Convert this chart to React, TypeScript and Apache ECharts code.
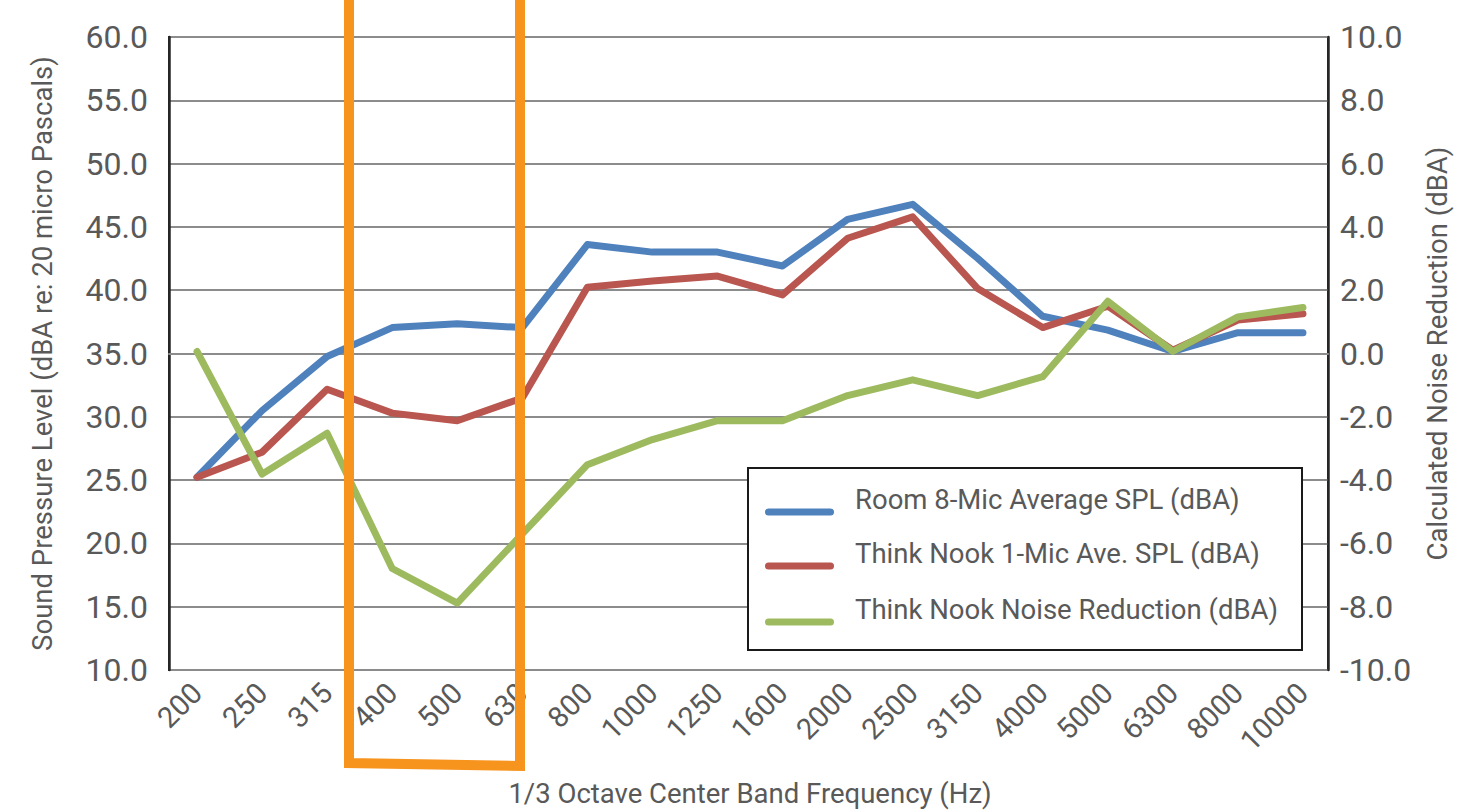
import React, { useEffect, useRef } from "react";
import * as echarts from "echarts";

const categories = ["200", "250", "315", "400", "500", "630", "800", "1000", "1250", "1600", "2000", "2500", "3150", "4000", "5000", "6300", "8000", "10000"];
const roomSPL = [25.0, 30.3, 34.6, 36.9, 37.2, 36.9, 43.5, 42.9, 42.9, 41.8, 45.5, 46.7, 42.4, 37.8, 36.7, 35.0, 36.5, 36.5];
const nookSPL = [25.0, 27.0, 32.0, 30.1, 29.5, 31.3, 40.1, 40.6, 41.0, 39.5, 44.0, 45.7, 40.0, 36.9, 38.6, 35.1, 37.5, 38.0];
const noiseReduction = [0.0, -3.9, -2.6, -6.9, -8.0, -5.8, -3.6, -2.8, -2.2, -2.2, -1.4, -0.9, -1.4, -0.8, 1.6, 0.0, 1.1, 1.4];

const seriesNames = [
  "Room 8-Mic Average SPL (dBA)",
  "Think Nook 1-Mic Ave. SPL (dBA)",
  "Think Nook Noise Reduction (dBA)",
];
const colors = ["#4F81BD", "#B9564F", "#9DBB5E"];

const FONT = "Roboto";
const TXT = "#595959";

export default function App() {
  const ref = useRef<HTMLDivElement>(null);
  useEffect(() => {
    if (!ref.current) return;
    const chart = echarts.init(ref.current, undefined, { renderer: "svg" });
    const top = 37;
    const bottom = 142;

    const legendX = 748;
    const legendY = 468;
    const legendRows = [512, 566, 622];
    const legendGraphics: any[] = [
      {
        type: "rect",
        z: 50,
        silent: true,
        shape: { x: legendX, y: legendY, width: 554, height: 182 },
        style: { fill: "#ffffff", stroke: "#1a1a1a", lineWidth: 2 },
      },
    ];
    seriesNames.forEach((name, i) => {
      legendGraphics.push({
        type: "rect",
        z: 51,
        silent: true,
        shape: { x: 765, y: legendRows[i] - 3.5, width: 69, height: 7, r: 3.5 },
        style: { fill: colors[i] },
      });
      legendGraphics.push({
        type: "text",
        z: 51,
        silent: true,
        x: 855,
        y: legendRows[i] - 13,
        style: {
          text: name,
          fill: TXT,
          font: `27.5px ${FONT}`,
          verticalAlign: "middle",
          align: "left",
        },
      });
    });

    const lineSeries = (i: number, data: number[], yAxisIndex: number) => ({
      name: seriesNames[i],
      type: "line",
      xAxisIndex: 1,
      yAxisIndex,
      data,
      symbol: "none",
      lineStyle: { color: colors[i], width: 7, cap: "round", join: "round" },
      itemStyle: { color: colors[i] },
    });

    chart.setOption({
      animation: false,
      backgroundColor: "#ffffff",
      textStyle: { fontFamily: FONT },
      grid: [
        { left: 169, right: 155, top, bottom, show: true, borderColor: "#262626", borderWidth: 2, backgroundColor: "transparent" },
        { left: 164.5, right: 147.5, top, bottom },
      ],
      xAxis: [
        {
          type: "category",
          gridIndex: 0,
          data: categories,
          axisLine: { show: true, lineStyle: { color: "#8c8c8c", width: 2 } },
          axisTick: { show: false },
          axisLabel: { show: false },
          splitLine: { show: false },
        },
        {
          type: "category",
          gridIndex: 1,
          data: categories,
          boundaryGap: true,
          axisLine: { show: false },
          axisTick: { show: false },
          axisLabel: { rotate: 45, margin: 22, color: TXT, fontSize: 29, fontFamily: FONT, interval: 0 },
          name: "1/3 Octave Center Band Frequency (Hz)",
          nameLocation: "middle",
          nameGap: 113,
          nameTextStyle: { color: TXT, fontSize: 27.5, fontFamily: FONT },
        },
      ],
      yAxis: [
        {
          type: "value",
          gridIndex: 0,
          position: "left",
          min: 10,
          max: 60,
          interval: 5,
          axisLine: { show: true, lineStyle: { color: "#262626", width: 2.5 } },
          axisTick: { show: false },
          axisLabel: { margin: 21, color: TXT, fontSize: 32, fontFamily: FONT, formatter: (v: number) => v.toFixed(1) },
          splitLine: { show: true, lineStyle: { color: "#8c8c8c", width: 2 } },
          name: "Sound Pressure Level (dBA re: 20 micro Pascals)",
          nameLocation: "middle",
          nameGap: 113,
          nameTextStyle: { color: TXT, fontSize: 27.5, fontFamily: FONT },
        },
        {
          type: "value",
          gridIndex: 0,
          position: "right",
          min: -10,
          max: 10,
          interval: 2,
          axisLine: { show: true, lineStyle: { color: "#262626", width: 2.5 } },
          axisTick: { show: false },
          axisLabel: { margin: 12, color: TXT, fontSize: 32, fontFamily: FONT, formatter: (v: number) => v.toFixed(1) },
          splitLine: { show: false },
          name: "Calculated Noise Reduction (dBA)",
          nameLocation: "middle",
          nameGap: 95,
          nameTextStyle: { color: TXT, fontSize: 27.5, fontFamily: FONT },
        },
        { type: "value", gridIndex: 1, min: 10, max: 60, interval: 5, show: false },
        { type: "value", gridIndex: 1, min: -10, max: 10, interval: 2, show: false },
      ],
      series: [
        lineSeries(0, roomSPL, 2),
        lineSeries(1, nookSPL, 2),
        lineSeries(2, noiseReduction, 3),
      ],
      graphic: [
        ...legendGraphics,
        {
          type: "polyline",
          z: 100,
          silent: true,
          shape: { points: [[349, -10], [349, 763], [520, 766], [520, -10]] },
          style: { stroke: "#F7941E", lineWidth: 10, fill: null, lineJoin: "miter" },
        },
      ],
    });
    return () => chart.dispose();
  }, []);
  return <div ref={ref} style={{ position: "absolute", left: 0, top: 0, width: 1483, height: 812 }} />;
}
